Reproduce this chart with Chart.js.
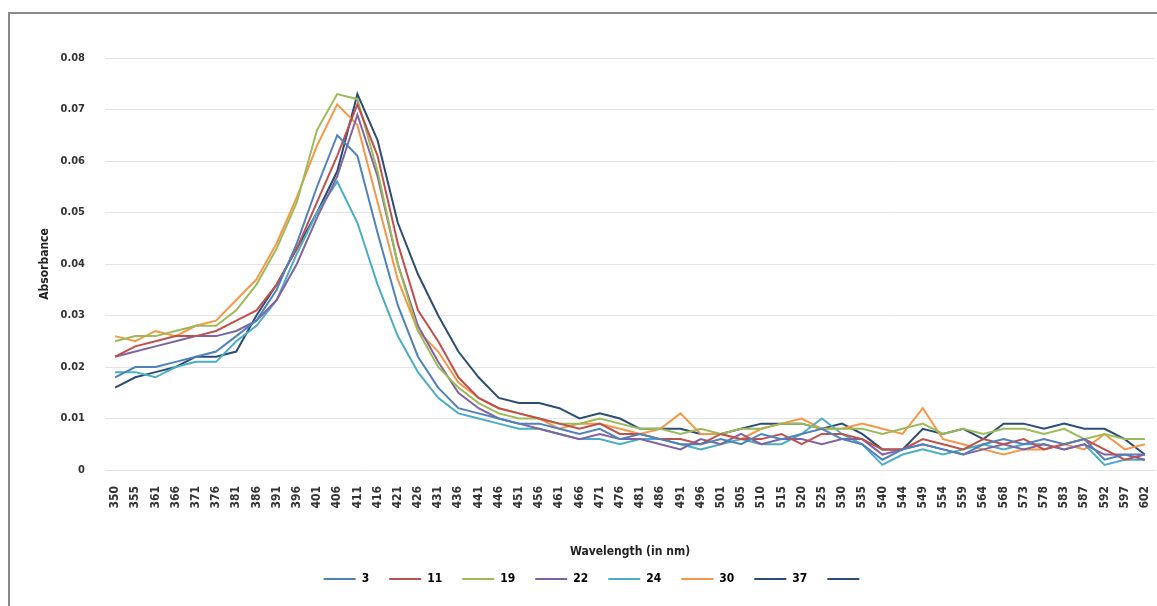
<!DOCTYPE html>
<html lang="en">
<head>
    <meta charset="UTF-8">
    <title>Absorbance vs Wavelength</title>
    <script src="https://cdn.jsdelivr.net/npm/chart.js"></script>
    <style>
        body {
            margin: 0;
            background-color: #ffffff;
            overflow: hidden;
        }
        .frame {
            position: absolute;
            left: 8px;
            top: 12px;
            width: 1200px;
            height: 640px;
            border-top: 2px solid #8a8a8a;
            border-left: 2px solid #8a8a8a;
        }
        .wrap {
            position: absolute;
            left: 0;
            top: 0;
            width: 1157px;
            height: 606px;
        }
    </style>
</head>
<body>
    <div class="frame"></div>
    <div class="wrap"><canvas id="absChart"></canvas></div>
    <script>
        const wavelengths = ['350','355','361','366','371','376','381','386','391','396','401','406','411','416','421','426','431','436','441','446','451','456','461','466','471','476','481','486','491','496','501','505','510','515','520','525','530','535','540','544','549','554','559','564','568','573','578','583','587','592','597','602'];

        const seriesNames = ['3', '11', '19', '22', '24', '30', '37'];
        const seriesColors = ['#4F81BD', '#C0504D', '#9BBB59', '#8064A2', '#4BACC6', '#F79646', '#2C4D75'];

        const s3 = [0.018,0.020,0.020,0.021,0.022,0.023,0.026,0.029,0.035,0.044,0.055,0.065,0.061,0.046,0.032,0.022,0.016,0.012,0.011,0.010,0.009,0.009,0.008,0.007,0.008,0.006,0.007,0.006,0.005,0.005,0.006,0.005,0.007,0.006,0.007,0.008,0.006,0.005,0.002,0.004,0.005,0.004,0.003,0.005,0.006,0.005,0.006,0.005,0.006,0.002,0.003,0.003];
        const s11 = [0.022,0.024,0.025,0.026,0.026,0.027,0.029,0.031,0.036,0.043,0.052,0.061,0.071,0.061,0.044,0.031,0.025,0.018,0.014,0.012,0.011,0.010,0.009,0.008,0.009,0.007,0.007,0.006,0.006,0.005,0.007,0.006,0.006,0.007,0.005,0.007,0.007,0.006,0.004,0.004,0.006,0.005,0.004,0.006,0.005,0.006,0.004,0.005,0.006,0.004,0.002,0.003];
        const s19 = [0.025,0.026,0.026,0.027,0.028,0.028,0.031,0.036,0.043,0.052,0.066,0.073,0.072,0.058,0.040,0.027,0.020,0.016,0.013,0.011,0.010,0.010,0.009,0.009,0.010,0.009,0.008,0.008,0.007,0.008,0.007,0.008,0.008,0.009,0.009,0.008,0.008,0.008,0.007,0.008,0.009,0.007,0.008,0.007,0.008,0.008,0.007,0.008,0.006,0.007,0.006,0.006];
        const s22 = [0.022,0.023,0.024,0.025,0.026,0.026,0.027,0.029,0.033,0.040,0.049,0.057,0.069,0.057,0.040,0.028,0.021,0.015,0.012,0.010,0.009,0.008,0.007,0.006,0.007,0.006,0.006,0.005,0.004,0.006,0.005,0.007,0.005,0.006,0.006,0.005,0.006,0.006,0.003,0.004,0.005,0.004,0.003,0.004,0.005,0.004,0.005,0.004,0.005,0.003,0.003,0.002];
        const s24 = [0.019,0.019,0.018,0.020,0.021,0.021,0.025,0.028,0.033,0.042,0.050,0.056,0.048,0.036,0.026,0.019,0.014,0.011,0.010,0.009,0.008,0.008,0.007,0.006,0.006,0.005,0.006,0.006,0.005,0.004,0.005,0.006,0.005,0.005,0.007,0.010,0.007,0.005,0.001,0.003,0.004,0.003,0.004,0.005,0.004,0.005,0.005,0.004,0.005,0.001,0.002,0.002];
        const s30 = [0.026,0.025,0.027,0.026,0.028,0.029,0.033,0.037,0.044,0.053,0.063,0.071,0.067,0.052,0.037,0.027,0.023,0.017,0.014,0.012,0.011,0.010,0.008,0.009,0.009,0.008,0.007,0.008,0.011,0.007,0.007,0.006,0.008,0.009,0.010,0.008,0.008,0.009,0.008,0.007,0.012,0.006,0.005,0.004,0.003,0.004,0.004,0.005,0.004,0.007,0.004,0.005];
        const s37 = [0.016,0.018,0.019,0.020,0.022,0.022,0.023,0.030,0.036,0.043,0.050,0.058,0.073,0.064,0.048,0.038,0.030,0.023,0.018,0.014,0.013,0.013,0.012,0.010,0.011,0.010,0.008,0.008,0.008,0.007,0.007,0.008,0.009,0.009,0.009,0.008,0.009,0.007,0.004,0.004,0.008,0.007,0.008,0.006,0.009,0.009,0.008,0.009,0.008,0.008,0.006,0.003];

        const seriesValues = [s3, s11, s19, s22, s24, s30, s37];
        const yTicks = [0, 0.01, 0.02, 0.03, 0.04, 0.05, 0.06, 0.07, 0.08];

        const fontFamily = "'Liberation Sans Narrow', 'DejaVu Sans Condensed', 'Liberation Sans', sans-serif";

        const datasets = seriesNames.map((name, i) => ({
            label: name,
            data: seriesValues[i],
            borderColor: seriesColors[i],
            backgroundColor: seriesColors[i],
            borderWidth: 2,
            pointRadius: 0,
            tension: 0,
            fill: false
        }));

        new Chart(document.getElementById('absChart'), {
            type: 'line',
            data: { labels: wavelengths, datasets: datasets },
            options: {
                responsive: true,
                maintainAspectRatio: false,
                animation: false,
                layout: { padding: { left: 34, right: 2, top: 58, bottom: 11 } },
                plugins: {
                    tooltip: { enabled: false },
                    legend: {
                        position: 'bottom',
                        labels: {
                            boxWidth: 32,
                            boxHeight: 2,
                            padding: 20,
                            color: '#222',
                            font: { family: fontFamily, size: 12, weight: 'bold' },
                            generateLabels: chart => {
                                const items = chart.data.datasets.map((ds, i) => ({
                                    text: ds.label,
                                    fillStyle: ds.borderColor,
                                    strokeStyle: ds.borderColor,
                                    lineWidth: 0,
                                    datasetIndex: i
                                }));
                                // trailing line with no label, as in the original legend
                                items.push({ text: '', fillStyle: '#2C4D75', strokeStyle: '#2C4D75', lineWidth: 0 });
                                return items;
                            }
                        }
                    }
                },
                scales: {
                    x: {
                        offset: true,
                        grid: { display: false },
                        border: { color: '#e4e4e4' },
                        ticks: {
                            autoSkip: false,
                            minRotation: 90,
                            maxRotation: 90,
                            padding: 8,
                            color: '#333',
                            font: { family: fontFamily, size: 12, weight: 'bold' }
                        },
                        title: {
                            display: true,
                            text: 'Wavelength (in nm)',
                            color: '#222',
                            padding: { top: 4, bottom: -6 },
                            font: { family: fontFamily, size: 12, weight: 'bold' }
                        },
                        afterFit: scale => {
                            scale.height = 83;
                            scale.paddingLeft = 0;
                            scale.paddingRight = 0;
                        }
                    },
                    y: {
                        min: 0,
                        max: 0.08,
                        afterBuildTicks: scale => { scale.ticks = yTicks.map(v => ({ value: v })); },
                        grid: { color: '#e4e4e4', drawTicks: false },
                        border: { display: false },
                        ticks: {
                            padding: 20,
                            color: '#333',
                            font: { family: fontFamily, size: 11, weight: 'bold' },
                            callback: v => v === 0 ? '0' : v.toFixed(2)
                        },
                        title: {
                            display: true,
                            text: 'Absorbance',
                            color: '#222',
                            padding: 4,
                            font: { family: fontFamily, size: 12, weight: 'bold' }
                        },
                        afterFit: scale => { scale.width = 71; }
                    }
                }
            }
        });
    </script>
</body>
</html>
